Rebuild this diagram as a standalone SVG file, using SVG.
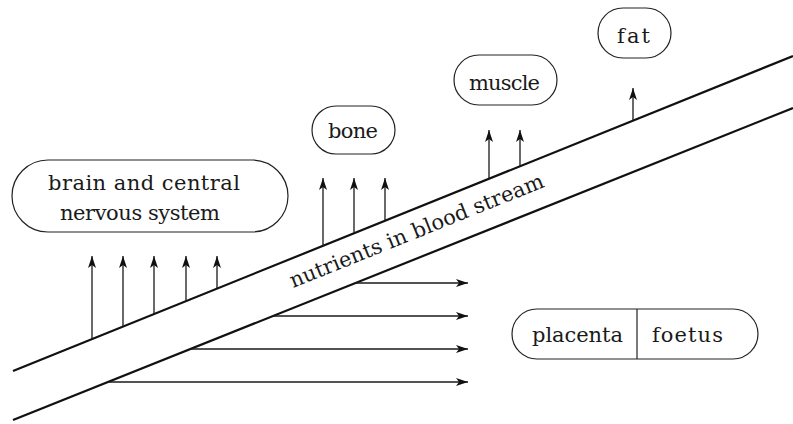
<svg xmlns="http://www.w3.org/2000/svg" width="793" height="424" viewBox="0 0 793 424">
<style>
.box{fill:none;stroke:#222;stroke-width:1.2}
.lbl{font-family:'DejaVu Serif','Liberation Serif',serif;font-size:21px;fill:#1a1a1a}
.band{stroke:#111;stroke-width:2.2;fill:none}
.arr{stroke:#1a1a1a;stroke-width:1.3;fill:none;marker-end:url(#ah)}
</style>
<defs>
<marker id="ah" markerWidth="14" markerHeight="10" refX="12" refY="5" orient="auto" markerUnits="userSpaceOnUse">
<path d="M0,1 L12,5 L0,9 L3,5 Z" fill="#111"/>
</marker>
</defs>
<rect width="793" height="424" fill="#fff"/>
<g id="bloodstream">
<line class="band" x1="13" y1="371" x2="793" y2="56"/>
<line class="band" x1="13" y1="420" x2="793" y2="108"/>
<text class="lbl" x="293" y="288" transform="rotate(-21.9 293 288)" textLength="272" lengthAdjust="spacing">nutrients in blood stream</text>
</g>
<g id="brain">
<rect class="box" x="12" y="160" width="276" height="72" rx="36"/>
<text class="lbl" x="48" y="190" textLength="192" lengthAdjust="spacing">brain and central</text>
<text class="lbl" x="60" y="220" textLength="160" lengthAdjust="spacing">nervous system</text>
</g>
<g id="bone">
<rect class="box" x="312" y="106" width="83" height="48" rx="24"/>
<text class="lbl" x="328" y="138" textLength="50" lengthAdjust="spacing">bone</text>
</g>
<g id="muscle">
<rect class="box" x="454" y="55" width="103" height="50" rx="25"/>
<text class="lbl" x="469" y="90" textLength="71" lengthAdjust="spacing">muscle</text>
</g>
<g id="fat">
<rect class="box" x="598" y="8" width="73" height="50" rx="25"/>
<text class="lbl" x="617" y="43" textLength="33" lengthAdjust="spacing">fat</text>
</g>
<g id="placenta-foetus">
<rect class="box" x="512" y="309" width="246" height="50" rx="25"/>
<line class="box" x1="637" y1="309" x2="637" y2="359"/>
<text class="lbl" x="532" y="342" textLength="91" lengthAdjust="spacing">placenta</text>
<text class="lbl" x="652" y="342" textLength="71" lengthAdjust="spacing">foetus</text>
</g>
<g id="connectors">
<line class="arr" x1="92" y1="339" x2="92" y2="256"/>
<line class="arr" x1="123" y1="326.6" x2="123" y2="256"/>
<line class="arr" x1="154" y1="314" x2="154" y2="256"/>
<line class="arr" x1="186" y1="301" x2="186" y2="256"/>
<line class="arr" x1="217" y1="288.6" x2="217" y2="256"/>
<line class="arr" x1="323" y1="245.8" x2="323" y2="178"/>
<line class="arr" x1="354" y1="233.2" x2="354" y2="178"/>
<line class="arr" x1="385" y1="220.7" x2="385" y2="178"/>
<line class="arr" x1="489" y1="178.7" x2="489" y2="130"/>
<line class="arr" x1="520" y1="166.2" x2="520" y2="130"/>
<line class="arr" x1="633" y1="120.5" x2="633" y2="88"/>
<line class="arr" x1="355.5" y1="283" x2="468" y2="283"/>
<line class="arr" x1="273" y1="316" x2="468" y2="316"/>
<line class="arr" x1="190.5" y1="349" x2="468" y2="349"/>
<line class="arr" x1="108" y1="382" x2="468" y2="382"/>
</g>
</svg>
